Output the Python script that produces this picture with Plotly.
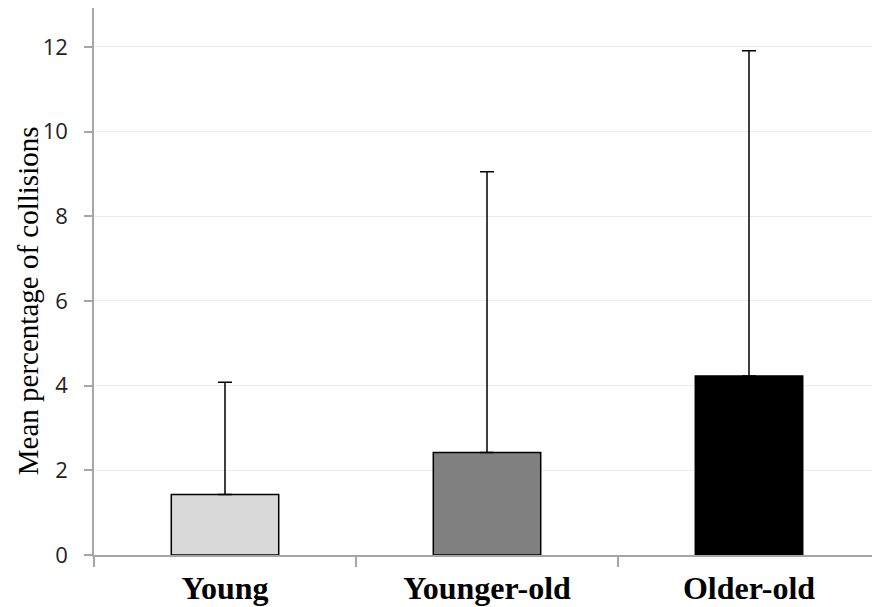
import plotly.graph_objects as go

categories = ["Young", "Younger-old", "Older-old"]
means = [1.43, 2.42, 4.23]
err_plus = [2.65, 6.63, 7.68]
colors = ["#d9d9d9", "#808080", "#000000"]
y_title = "Mean percentage of collisions"

fig = go.Figure()
fig.add_trace(go.Bar(
    x=categories, y=means,
    marker=dict(color=colors, line=dict(color="#000000", width=1.5)),
    width=0.41,
    error_y=dict(type="data", symmetric=False, array=err_plus,
                 arrayminus=[0, 0, 0], color="#000000", thickness=1.5, width=7),
))

fig.update_layout(
    width=872, height=599,
    margin=dict(l=86, r=0, t=0, b=52),
    plot_bgcolor="white", paper_bgcolor="white",
    showlegend=False,
)
fig.update_xaxes(
    showline=True, linecolor="#a6a6a6", linewidth=1.5,
    ticks="outside", tickson="boundaries", ticklen=10, tickcolor="#a6a6a6", tickwidth=1.5,
    tickfont=dict(family="Liberation Serif", size=32, color="#000000", weight="bold"),
    ticklabelstandoff=4,
    showgrid=False,
)
fig.update_yaxes(
    range=[0, 12.92], tickvals=[0, 2, 4, 6, 8, 10, 12],
    showline=True, linecolor="#a6a6a6", linewidth=1.5,
    ticks="outside", ticklen=8, tickcolor="#a6a6a6", tickwidth=1.5,
    tickfont=dict(family="Open Sans", size=22, color="#222222"),
    ticklabelstandoff=12,
    showgrid=True, gridcolor="#ececec", gridwidth=1,
    zeroline=False,
)
fig.add_annotation(
    text=y_title, textangle=-90, showarrow=False,
    xref="paper", yref="paper", x=0, y=0.464, xshift=-66,
    xanchor="center", yanchor="middle", borderpad=0,
    font=dict(family="Liberation Serif", size=29, color="#000000"),
)

fig.write_html("out.html")
